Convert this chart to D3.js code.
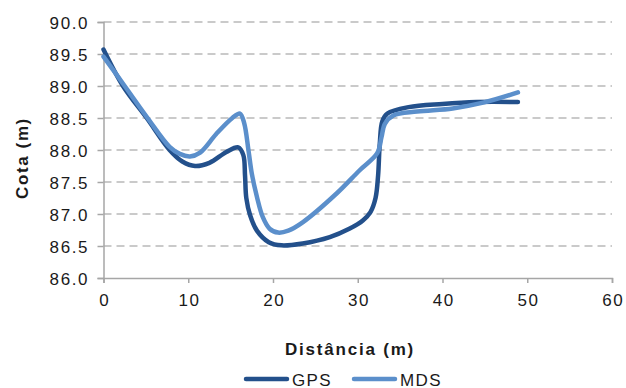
<!DOCTYPE html>
<html>
<head>
<meta charset="utf-8">
<script src="https://cdn.jsdelivr.net/npm/d3@7"></script>
<style>
  html, body { margin: 0; padding: 0; background: #fff; }
  svg { display: block; }
  text { font-family: "Liberation Sans", Arial, sans-serif; fill: #1a1a1a; }
</style>
</head>
<body>
<svg id="chart" width="626" height="388"></svg>
<script>
// Cross-section profile: distance (m) vs elevation (m)
const gpsDist = [0, 2.3, 5.1, 7.8, 9.3, 10.8, 12.5, 14.5, 15.9, 16.5, 16.7, 16.85, 17.3, 18.1, 19.5, 21, 23.5, 26.7, 29, 30.6, 31.5, 32.1, 32.4, 32.6, 32.9, 33.5, 36, 40, 44, 48.9];
const gpsElev = [89.57, 89.0, 88.5, 88.0, 87.82, 87.75, 87.8, 87.97, 88.04, 87.92, 87.6, 87.25, 86.98, 86.74, 86.56, 86.51, 86.54, 86.64, 86.77, 86.9, 87.03, 87.25, 87.6, 88.1, 88.45, 88.57, 88.67, 88.72, 88.75, 88.75];

const mdsDist = [0, 2.5, 5.2, 7.8, 9.0, 10.2, 11.4, 13.3, 15.2, 16.1, 16.6, 17.1, 17.5, 18.1, 18.8, 19.6, 20.6, 21.8, 23.5, 27.5, 30.2, 32.3, 32.8, 33.2, 34.2, 37, 41.2, 44.8, 48.9];
const mdsElev = [89.46, 89.0, 88.5, 88.05, 87.94, 87.9, 87.96, 88.25, 88.5, 88.57, 88.42, 88.0, 87.63, 87.27, 86.95, 86.77, 86.71, 86.74, 86.87, 87.32, 87.68, 87.95, 88.2, 88.41, 88.54, 88.6, 88.65, 88.74, 88.9];

const xTicks = [0, 10, 20, 30, 40, 50, 60];
const yTicks = [86.0, 86.5, 87.0, 87.5, 88.0, 88.5, 89.0, 89.5, 90.0];
const seriesNames = ["GPS", "MDS"];
const seriesColors = ["#23508b", "#5b8fcb"];

const svg = d3.select("#chart");
const x = d3.scaleLinear().domain([0, 60]).range([103.5, 612]);
const y = d3.scaleLinear().domain([86, 90]).range([278, 22]);

// dashed horizontal gridlines
svg.append("g")
  .selectAll("line")
  .data(yTicks.filter(v => v > 86))
  .join("line")
  .attr("x1", x(0)).attr("x2", x(60))
  .attr("y1", d => y(d)).attr("y2", d => y(d))
  .attr("stroke", "#b9b9b9")
  .attr("stroke-width", 1.5)
  .attr("stroke-dasharray", "8,5");

// y axis
const yAxis = svg.append("g")
  .attr("transform", `translate(${x(0)},0)`)
  .call(d3.axisLeft(y).tickValues(yTicks).tickFormat(d3.format(".1f")).tickSize(6).tickPadding(10));
// x axis
const xAxis = svg.append("g")
  .attr("transform", `translate(0,${y(86)})`)
  .call(d3.axisBottom(x).tickValues(xTicks).tickFormat(d3.format("d")).tickSize(5).tickPadding(11));

[yAxis, xAxis].forEach(g => {
  g.select(".domain").attr("stroke", "#a6a6a6").attr("stroke-width", 1.5);
  g.selectAll(".tick line").attr("stroke", "#a6a6a6").attr("stroke-width", 1.5);
  g.selectAll(".tick text")
    .attr("font-size", 17)
    .attr("letter-spacing", "1.6px")
    .attr("fill", "#1a1a1a")
    .style("font-family", "'Liberation Sans', Arial, sans-serif");
});
// keep the letter spacing from shifting the labels
xAxis.selectAll(".tick text").attr("dx", "0.8px");
yAxis.selectAll(".tick text").attr("dx", "1.6px").attr("dy", "0.36em");

// profile lines
const line = d3.line()
  .x(d => x(d[0]))
  .y(d => y(d[1]))
  .curve(d3.curveCatmullRom.alpha(0.5));

const series = [
  { name: seriesNames[0], color: seriesColors[0], pts: d3.zip(gpsDist, gpsElev) },
  { name: seriesNames[1], color: seriesColors[1], pts: d3.zip(mdsDist, mdsElev) }
];

svg.append("g")
  .selectAll("path")
  .data(series)
  .join("path")
  .attr("d", d => line(d.pts))
  .attr("fill", "none")
  .attr("stroke", d => d.color)
  .attr("stroke-width", 4.5)
  .attr("stroke-linecap", "round")
  .attr("stroke-linejoin", "round");

// axis titles
svg.append("text")
  .attr("transform", "translate(28,158) rotate(-90)")
  .attr("text-anchor", "middle")
  .attr("font-size", 17)
  .attr("font-weight", "bold")
  .attr("letter-spacing", "1.6px")
  .text("Cota (m)");

svg.append("text")
  .attr("x", 350)
  .attr("y", 355)
  .attr("text-anchor", "middle")
  .attr("font-size", 17)
  .attr("font-weight", "bold")
  .attr("letter-spacing", "1.8px")
  .text("Distância (m)");

// legend
const legendX = [246, 354];
const legend = svg.append("g")
  .selectAll("g")
  .data(series)
  .join("g")
  .attr("transform", (d, i) => `translate(${legendX[i]},379)`);
legend.append("line")
  .attr("x1", 0).attr("x2", 41)
  .attr("stroke", d => d.color)
  .attr("stroke-width", 4.5)
  .attr("stroke-linecap", "round");
legend.append("text")
  .attr("x", 46)
  .attr("y", 6.5)
  .attr("font-size", 17)
  .attr("letter-spacing", "1.4px")
  .text(d => d.name);
</script>
</body>
</html>
